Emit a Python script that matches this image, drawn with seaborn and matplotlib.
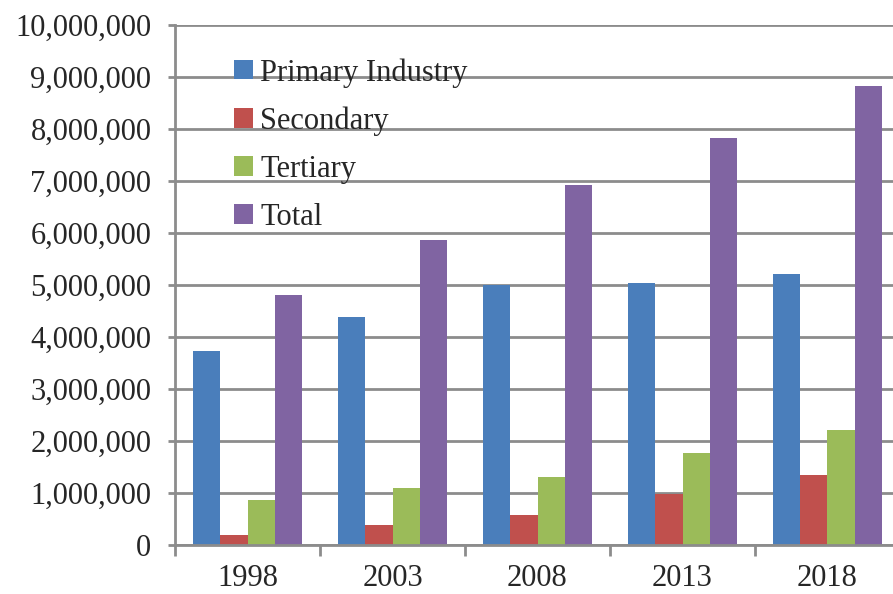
import numpy as np
import pandas as pd
import matplotlib
matplotlib.use('Agg')
import matplotlib.pyplot as plt
import seaborn as sns
from matplotlib.ticker import FuncFormatter, FixedLocator

sns.set_style("white")
plt.rcParams['font.family'] = ['Liberation Serif', 'DejaVu Serif']

years = ['1998', '2003', '2008', '2013', '2018']
primary = [3730000, 4380000, 5000000, 5040000, 5210000]
secondary = [190000, 385000, 577000, 990000, 1350000]
tertiary = [865000, 1100000, 1310000, 1760000, 2220000]
total = [4810000, 5870000, 6920000, 7820000, 8830000]
series = ['Primary Industry', 'Secondary', 'Tertiary', 'Total']
colors = ['#4A7EBB', '#C0504D', '#9BBB59', '#8064A2']

df = pd.DataFrame({'year': years, 'Primary Industry': primary,
                   'Secondary': secondary, 'Tertiary': tertiary, 'Total': total})
long = df.melt(id_vars='year', var_name='sector', value_name='value')

fig = plt.figure(figsize=(8.93, 5.94), dpi=100)
ax = fig.add_axes([175 / 893, 49 / 594, 725 / 893, 520 / 594])

ax.set_axisbelow(True)
ax.yaxis.grid(True, color='#8c8c8c', linewidth=2)

sns.barplot(data=long, x='year', y='value', hue='sector', hue_order=series,
            palette=colors, width=0.745, gap=0, saturation=1, ax=ax,
            edgecolor='none', errorbar=None)

ax.set_ylim(0, 10000000)
ax.set_xlim(-0.5, 4.5)
ax.set_yticks(np.arange(0, 10000001, 1000000))
ax.yaxis.set_major_formatter(FuncFormatter(lambda v, p: f'{int(v):,}'))
ax.set_xlabel('')
ax.set_ylabel('')

for s in ['top', 'right']:
    ax.spines[s].set_visible(False)
for s in ['left', 'bottom']:
    ax.spines[s].set_color('#8c8c8c')
    ax.spines[s].set_linewidth(2)

ax.tick_params(axis='y', which='major', labelsize=22, length=5, width=2,
               color='#8c8c8c', direction='out', left=True, pad=12)
ax.tick_params(axis='x', which='major', labelsize=22, length=0, pad=14)
ax.xaxis.set_minor_locator(FixedLocator([-0.5, 0.5, 1.5, 2.5, 3.5, 4.5]))
ax.tick_params(axis='x', which='minor', length=8, width=2, color='#8c8c8c',
               direction='out', bottom=True)

ax.legend(loc='upper left', bbox_to_anchor=(0.065, 0.96), frameon=False,
          fontsize=22, handlelength=0.6, handleheight=0.6, handletextpad=0.25,
          labelspacing=0.62, borderaxespad=0)

fig.savefig('out.png', dpi=100)
